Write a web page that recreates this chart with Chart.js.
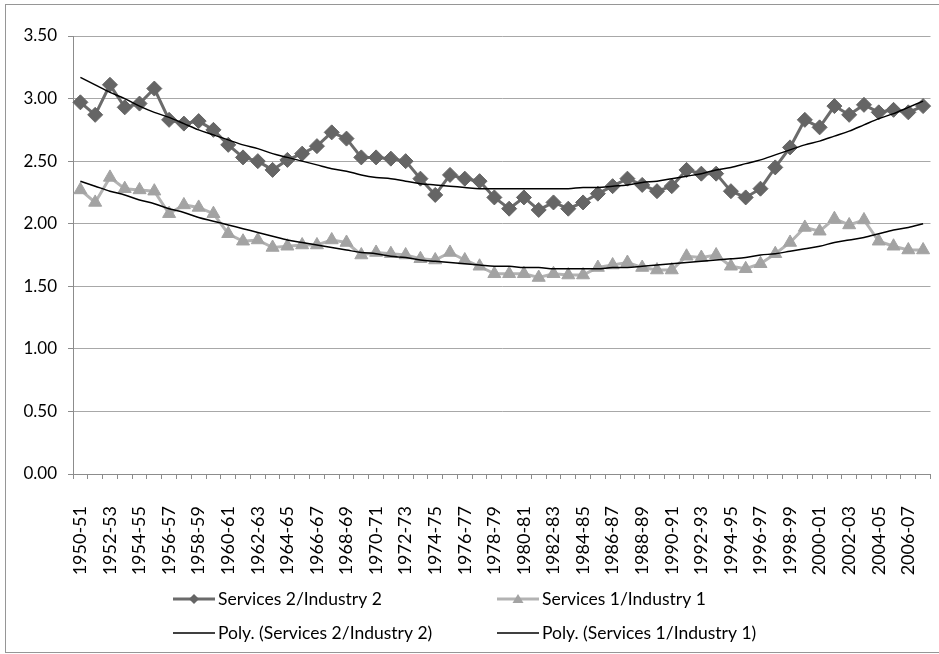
<!DOCTYPE html>
<html>
<head>
<meta charset="utf-8">
<script src="https://cdn.jsdelivr.net/npm/chart.js@4.4.1/dist/chart.umd.min.js"></script>
<style>
  html, body { margin: 0; padding: 0; background: #fff; }
  #wrap { width: 939px; height: 654px; position: relative; }
</style>
</head>
<body>
<div id="wrap"><canvas id="c" width="939" height="654"></canvas></div>
<script>
const categories = [
  "1950-51","1951-52","1952-53","1953-54","1954-55","1955-56","1956-57","1957-58","1958-59","1959-60",
  "1960-61","1961-62","1962-63","1963-64","1964-65","1965-66","1966-67","1967-68","1968-69","1969-70",
  "1970-71","1971-72","1972-73","1973-74","1974-75","1975-76","1976-77","1977-78","1978-79","1979-80",
  "1980-81","1981-82","1982-83","1983-84","1984-85","1985-86","1986-87","1987-88","1988-89","1989-90",
  "1990-91","1991-92","1992-93","1993-94","1994-95","1995-96","1996-97","1997-98","1998-99","1999-00",
  "2000-01","2001-02","2002-03","2003-04","2004-05","2005-06","2006-07","2007-08"
];

const services2Industry2 = [
  2.97, 2.87, 3.11, 2.93, 2.96, 3.08, 2.83, 2.80, 2.82, 2.75,
  2.63, 2.53, 2.50, 2.43, 2.51, 2.56, 2.62, 2.73, 2.68, 2.53,
  2.53, 2.52, 2.50, 2.36, 2.23, 2.39, 2.36, 2.34, 2.21, 2.12,
  2.21, 2.11, 2.17, 2.12, 2.17, 2.24, 2.30, 2.36, 2.31, 2.26,
  2.30, 2.43, 2.40, 2.40, 2.26, 2.21, 2.28, 2.45, 2.61, 2.83,
  2.77, 2.94, 2.87, 2.95, 2.89, 2.91, 2.89, 2.94
];

const services1Industry1 = [
  2.27, 2.17, 2.37, 2.28, 2.27, 2.26, 2.08, 2.15, 2.13, 2.08,
  1.92, 1.86, 1.87, 1.81, 1.82, 1.83, 1.83, 1.87, 1.85, 1.75,
  1.77, 1.76, 1.75, 1.72, 1.71, 1.77, 1.71, 1.66, 1.60, 1.60,
  1.60, 1.57, 1.60, 1.59, 1.59, 1.65, 1.67, 1.69, 1.65, 1.63,
  1.63, 1.74, 1.73, 1.75, 1.66, 1.64, 1.68, 1.76, 1.85, 1.97,
  1.94, 2.04, 1.99, 2.03, 1.86, 1.82, 1.79, 1.79
];

const polyServices2 = [
  3.17, 3.11, 3.05, 3.00, 2.94, 2.89, 2.85, 2.80, 2.75, 2.71,
  2.67, 2.63, 2.60, 2.56, 2.53, 2.50, 2.47, 2.44, 2.42, 2.39,
  2.37, 2.36, 2.34, 2.32, 2.31, 2.30, 2.29, 2.28, 2.28, 2.28,
  2.28, 2.28, 2.28, 2.28, 2.29, 2.29, 2.30, 2.31, 2.33, 2.34,
  2.36, 2.38, 2.40, 2.43, 2.45, 2.48, 2.51, 2.55, 2.59, 2.63,
  2.66, 2.70, 2.74, 2.79, 2.84, 2.88, 2.93, 2.98
];

const polyServices1 = [
  2.34, 2.30, 2.26, 2.23, 2.19, 2.16, 2.12, 2.09, 2.05, 2.02,
  1.99, 1.96, 1.93, 1.90, 1.87, 1.85, 1.83, 1.81, 1.79, 1.77,
  1.76, 1.74, 1.73, 1.71, 1.70, 1.69, 1.68, 1.67, 1.66, 1.66,
  1.65, 1.65, 1.64, 1.64, 1.64, 1.64, 1.65, 1.65, 1.66, 1.67,
  1.68, 1.69, 1.70, 1.71, 1.72, 1.73, 1.75, 1.76, 1.78, 1.80,
  1.82, 1.85, 1.87, 1.89, 1.92, 1.95, 1.97, 2.00
];

const yTicks = [0, 0.5, 1.0, 1.5, 2.0, 2.5, 3.0, 3.5];

const seriesNames = [
  "Services 2/Industry 2",
  "Services 1/Industry 1",
  "Poly. (Services 2/Industry 2)",
  "Poly. (Services 1/Industry 1)"
];

const FONT = "Lato";

const frameBorder = {
  id: "frameBorder",
  beforeDraw(chart) {
    const ctx = chart.ctx;
    ctx.save();
    ctx.fillStyle = "#ffffff";
    ctx.fillRect(0, 0, chart.width, chart.height);
    ctx.strokeStyle = "#969696";
    ctx.lineWidth = 1;
    ctx.strokeRect(5.5, 4.5, 940, 648);
    ctx.restore();
  }
};

function drawMarker(ctx, style, x, y, color) {
  ctx.fillStyle = color;
  ctx.beginPath();
  if (style === "rectRot") {
    const r = 5;
    ctx.moveTo(x, y - r); ctx.lineTo(x + r, y); ctx.lineTo(x, y + r); ctx.lineTo(x - r, y);
  } else if (style === "triangle") {
    ctx.moveTo(x, y - 5); ctx.lineTo(x + 5.5, y + 4); ctx.lineTo(x - 5.5, y + 4);
  }
  ctx.closePath();
  ctx.fill();
}

const excelLegend = {
  id: "excelLegend",
  afterDraw(chart) {
    const ctx = chart.ctx;
    const slots = [
      { x: 173, y: 599 }, { x: 497, y: 599 },
      { x: 173, y: 633 }, { x: 497, y: 633 }
    ];
    ctx.save();
    chart.data.datasets.forEach((ds, i) => {
      const s = slots[i];
      ctx.strokeStyle = ds.borderColor;
      ctx.lineWidth = ds.borderWidth;
      ctx.beginPath();
      ctx.moveTo(s.x, s.y);
      ctx.lineTo(s.x + 42, s.y);
      ctx.stroke();
      if (ds.pointStyle && ds.pointRadius > 0) {
        drawMarker(ctx, ds.pointStyle, s.x + 21, s.y, ds.pointBackgroundColor);
      }
      ctx.fillStyle = "#000";
      ctx.font = "17.5px " + FONT;
      ctx.textBaseline = "middle";
      ctx.textAlign = "left";
      ctx.fillText(ds.label, s.x + 45, s.y);
    });
    ctx.restore();
  }
};

new Chart(document.getElementById("c"), {
  type: "line",
  data: {
    labels: categories,
    datasets: [
      {
        label: seriesNames[0],
        data: services2Industry2,
        borderColor: "#6b6b6b",
        backgroundColor: "#656565",
        borderWidth: 3,
        pointStyle: "rectRot",
        pointRadius: 7.5,
        pointBackgroundColor: "#656565",
        pointBorderColor: "#656565",
        pointBorderWidth: 1,
        tension: 0,
        order: 2
      },
      {
        label: seriesNames[1],
        data: services1Industry1,
        borderColor: "#b3b3b3",
        backgroundColor: "#a3a3a3",
        borderWidth: 3,
        pointStyle: "triangle",
        pointRadius: 7.5,
        pointBackgroundColor: "#a3a3a3",
        pointBorderColor: "#a3a3a3",
        pointBorderWidth: 1,
        tension: 0,
        order: 3
      },
      {
        label: seriesNames[2],
        data: polyServices2,
        borderColor: "#000000",
        borderWidth: 1.5,
        pointRadius: 0,
        tension: 0.4,
        cubicInterpolationMode: "monotone",
        order: 0
      },
      {
        label: seriesNames[3],
        data: polyServices1,
        borderColor: "#000000",
        borderWidth: 1.5,
        pointRadius: 0,
        tension: 0.4,
        cubicInterpolationMode: "monotone",
        order: 1
      }
    ]
  },
  options: {
    responsive: false,
    animation: false,
    events: [],
    layout: { padding: { left: 0, top: 36, right: 7, bottom: 0 } },
    plugins: {
      legend: { display: false },
      tooltip: { enabled: false },
      title: { display: false }
    },
    scales: {
      x: {
        type: "category",
        offset: true,
        afterFit(scale) {
          scale.height = 180;
          scale.paddingLeft = 0;
          scale.paddingRight = 0;
        },
        grid: {
          offset: true,
          drawOnChartArea: false,
          drawTicks: true,
          tickLength: 5,
          color: "#8c8c8c",
          tickColor: "#8c8c8c"
        },
        border: { display: true, color: "#8c8c8c", width: 1 },
        ticks: {
          autoSkip: false,
          maxRotation: 90,
          minRotation: 90,
          padding: 27,
          color: "#000",
          font: { family: FONT, size: 18 },
          callback(value, index) {
            return index % 2 === 0 ? categories[index] : "";
          }
        }
      },
      y: {
        min: yTicks[0],
        max: yTicks[yTicks.length - 1],
        afterFit(scale) {
          scale.width = 73;
          scale.paddingTop = 0;
          scale.paddingBottom = 0;
        },
        afterBuildTicks(scale) { scale.ticks = yTicks.map(v => ({ value: v })); },
        grid: {
          color: "#a8a8a8",
          tickColor: "#8c8c8c",
          tickLength: 5,
          lineWidth: 1
        },
        border: { display: true, color: "#8c8c8c", width: 1 },
        ticks: {
          padding: 11,
          color: "#000",
          font: { family: FONT, size: 17 },
          callback(value) { return Number(value).toFixed(2); }
        }
      }
    }
  },
  plugins: [frameBorder, excelLegend]
});
</script>
</body>
</html>
